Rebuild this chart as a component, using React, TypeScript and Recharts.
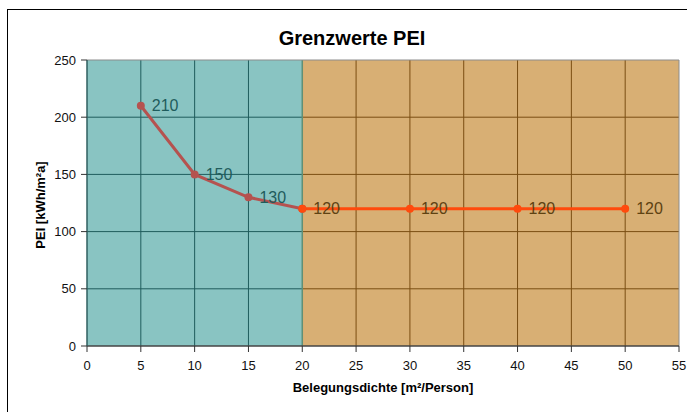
import React from 'react'
import {
  LineChart,
  Line,
  XAxis,
  YAxis,
  ReferenceArea,
  ReferenceLine,
  LabelList,
  Customized,
} from 'recharts'

// Grenzwerte PEI je Belegungsdichte
const densityLow = [5, 10, 15, 20]
const peiLow = [210, 150, 130, 120]
const densityHigh = [20, 30, 40, 50]
const peiHigh = [120, 120, 120, 120]

const xTicks = [0, 5, 10, 15, 20, 25, 30, 35, 40, 45, 50, 55]
const yTicks = [0, 50, 100, 150, 200, 250]
const zoneSplit = 20

const lowData = densityLow.map((x, i) => ({ x, pei: peiLow[i] }))
const highData = densityHigh.map((x, i) => ({ x, pei: peiHigh[i] }))

const FONT = '"Liberation Sans", Arial, Helvetica, sans-serif'
const TEAL = '#89C4C2'
const TAN = '#D8AF74'
const TEAL_GRID = '#1F5C5C'
const TAN_GRID = '#7A4E12'

const xMin = xTicks[0]
const xMax = xTicks[xTicks.length - 1]
const yMax = yTicks[yTicks.length - 1]

function pointLabel(color: string, skipLast: boolean, count: number) {
  return (props: any) => {
    const { x, y, value, index } = props
    if (skipLast && index === count - 1) return null
    return (
      <text
        x={Number(x) + 11}
        y={Number(y)}
        dominantBaseline="central"
        fontFamily={FONT}
        fontSize={16}
        fill={color}
      >
        {value}
      </text>
    )
  }
}

export default function App() {
  return (
    <div
      style={{
        position: 'fixed',
        left: 0,
        top: 0,
        width: 687,
        height: 412,
        overflow: 'hidden',
        background: '#fff',
      }}
    >
      <div
        style={{
          position: 'absolute',
          left: 7,
          top: 9,
          width: 720,
          height: 430,
          borderTop: '1px solid #000',
          borderLeft: '1px solid #000',
          boxSizing: 'border-box',
          background: '#fff',
        }}
      >
        <LineChart
          width={698}
          height={418}
          margin={{ top: 50, right: 27, left: 39, bottom: 42 }}
        >
          <ReferenceArea x1={xMin} x2={zoneSplit} y1={0} y2={yMax} fill={TEAL} fillOpacity={1} stroke="none" zIndex={-60} />
          <ReferenceArea x1={zoneSplit} x2={xMax} y1={0} y2={yMax} fill={TAN} fillOpacity={1} stroke="none" zIndex={-60} />

          {xTicks
            .filter((v) => v > xMin && v < xMax && v !== zoneSplit)
            .map((v) => (
              <ReferenceLine key={'vx' + v} x={v} stroke={v < zoneSplit ? TEAL_GRID : TAN_GRID} strokeWidth={1} zIndex={-50} />
            ))}
          {yTicks
            .filter((v) => v > 0 && v < yMax)
            .map((v) => (
              <ReferenceLine
                key={'hl' + v}
                segment={[{ x: xMin, y: v }, { x: zoneSplit, y: v }]}
                stroke={TEAL_GRID}
                strokeWidth={1}
                zIndex={-50}
              />
            ))}
          {yTicks
            .filter((v) => v > 0 && v < yMax)
            .map((v) => (
              <ReferenceLine
                key={'hr' + v}
                segment={[{ x: zoneSplit, y: v }, { x: xMax, y: v }]}
                stroke={TAN_GRID}
                strokeWidth={1}
                zIndex={-50}
              />
            ))}
          <ReferenceLine x={zoneSplit} stroke="#5F9077" strokeWidth={1.5} zIndex={-50} />
          <ReferenceLine y={yMax} stroke="#8C8C8C" strokeWidth={1} zIndex={-50} />
          <ReferenceLine x={xMax} stroke="#8C8C8C" strokeWidth={1} zIndex={-50} />

          <XAxis
            dataKey="x"
            type="number"
            domain={[xMin, xMax]}
            ticks={xTicks}
            allowDataOverflow
            height={40}
            tickSize={6}
            tickMargin={9}
            axisLine={{ stroke: '#444', strokeWidth: 1.5 }}
            tickLine={{ stroke: '#333' }}
            tick={{ fontSize: 13, fill: '#111', fontFamily: FONT }}
            label={{
              content: (p: any) => {
                const vb = p.viewBox
                return (
                  <text
                    x={vb.x + vb.width / 2}
                    y={vb.y + 46}
                    textAnchor="middle"
                    fontFamily={FONT}
                    fontWeight="bold"
                    fontSize={13}
                    fill="#000"
                  >
                    Belegungsdichte [m²/Person]
                  </text>
                )
              },
            }}
          />
          <YAxis
            type="number"
            domain={[0, yMax]}
            ticks={yTicks}
            width={40}
            tickSize={6}
            tickMargin={5}
            axisLine={{ stroke: '#2F5F5F', strokeWidth: 1.5 }}
            tickLine={{ stroke: '#333' }}
            tick={{ fontSize: 13, fill: '#111', fontFamily: FONT }}
            label={{
              content: (p: any) => {
                const vb = p.viewBox
                const cx = vb.x - 7
                const cy = vb.y + vb.height / 2 + 2
                return (
                  <text
                    x={cx}
                    y={cy}
                    transform={`rotate(-90, ${cx}, ${cy})`}
                    textAnchor="middle"
                    dominantBaseline="central"
                    fontFamily={FONT}
                    fontWeight="bold"
                    fontSize={13}
                    fill="#000"
                  >
                    PEI [kWh/m²a]
                  </text>
                )
              },
            }}
          />

          <Line
            data={lowData}
            dataKey="pei"
            stroke="#B5524F"
            strokeWidth={3}
            dot={{ r: 2.5, fill: '#B5524F', stroke: '#B5524F' }}
            isAnimationActive={false}
          >
            <LabelList dataKey="pei" content={pointLabel('#1F5C5C', true, lowData.length)} />
          </Line>
          <Line
            data={highData}
            dataKey="pei"
            stroke="#FF4A0D"
            strokeWidth={3}
            dot={{ r: 2.5, fill: '#FF4A0D', stroke: '#FF4A0D' }}
            isAnimationActive={false}
          >
            <LabelList dataKey="pei" content={pointLabel('#5E4212', false, highData.length)} />
          </Line>

          <Customized
            component={() => (
              <text x={344} y={35} textAnchor="middle" fontFamily={FONT} fontWeight="bold" fontSize={20} fill="#000">
                Grenzwerte PEI
              </text>
            )}
          />
        </LineChart>
      </div>
    </div>
  )
}
